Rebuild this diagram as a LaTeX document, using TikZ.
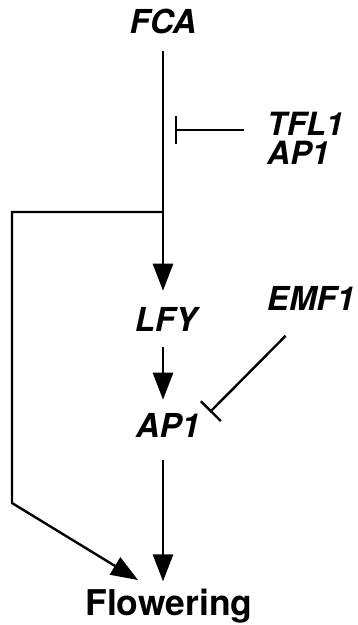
\documentclass[tikz,border=0pt]{standalone}
\usepackage{fontspec}
\setmainfont{TeX Gyre Heros}
\usetikzlibrary{arrows.meta,calc}

\begin{document}
\begin{tikzpicture}[x=1pt,y=-1pt,
  gene/.style={font=\fontsize{33}{33}\selectfont\bfseries\itshape,inner sep=0pt},
  act/.style={-{Triangle[length=27pt,width=20pt]},line width=2.8pt},
  inh/.style={-{Bar[width=28pt,line width=2.4pt]},line width=2.4pt}]
  \useasboundingbox (0,0) rectangle (358,625);
  % genes
  \node[gene,anchor=base] (fca) at (163,33) {FCA};
  \node[gene,anchor=base west,font=\fontsize{32}{32}\selectfont\bfseries\itshape] (tfl) at (267,135) {TFL1};
  \node[gene,anchor=base west,font=\fontsize{32}{32}\selectfont\bfseries\itshape] (tflap) at (267,164) {AP1};
  \node[gene,anchor=base] (lfy) at (166,331) {LFY};
  \node[gene,anchor=base] (emf) at (311,310) {EMF1};
  \node[gene,anchor=base] (ap) at (168,437) {AP1};
  \node[font=\fontsize{35.5}{35.5}\selectfont\bfseries,inner sep=0pt,anchor=base] (flow) at (169,615) {Flowering};
  % branch points
  \coordinate (split) at (163,212);
  \coordinate (lefttop) at (12,212);
  \coordinate (leftbot) at (12,503);
  \coordinate (flowhit) at (138,580);
  \coordinate (tflhit) at (175,130);
  \coordinate (aphit) at (210,412);
  % activation
  \draw[act,shorten <=17pt,shorten >=16pt] (fca.south) -- (fca.south |- lfy.north);
  \draw[act,shorten <=16pt,shorten >=13pt] (lfy.south -| fca.south) -- (fca.south |- ap.north);
  \draw[act,shorten <=23pt,shorten >=7pt] (ap.south -| fca.south) -- (fca.south |- flow.north);
  \draw[act,line width=2.4pt] (split) -- (lefttop) -- (leftbot) -- (flowhit);
  % repression
  \draw[inh] ($(tfl.west |- tflhit)+(-23,0)$) -- (tflhit);
  \draw[inh,shorten <=36pt] (emf.south) -- (aphit);
\end{tikzpicture}
\end{document}
